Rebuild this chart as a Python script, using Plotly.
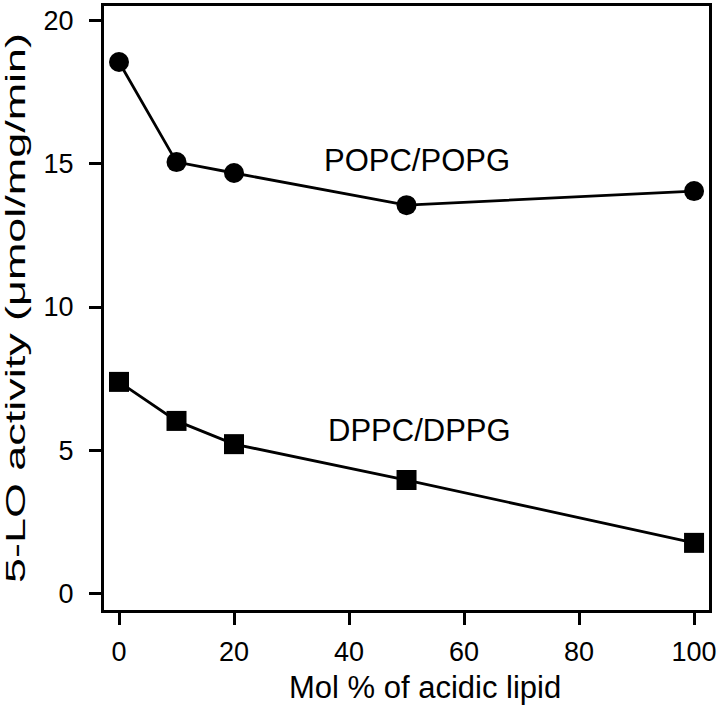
import plotly.graph_objects as go

mol_pct = [0, 10, 20, 50, 100]
popc_popg = [18.54, 15.05, 14.67, 13.55, 14.04]
dppc_dppg = [7.39, 6.03, 5.22, 3.97, 1.78]
x_ticks = [0, 20, 40, 60, 80, 100]
y_ticks = [0, 5, 10, 15, 20]

FONT = "Liberation Sans, Arial, sans-serif"

fig = go.Figure()
fig.add_trace(go.Scatter(
    x=mol_pct, y=popc_popg, mode="lines+markers", name="POPC/POPG",
    line=dict(color="black", width=2.8),
    marker=dict(symbol="circle", size=20, color="black"),
))
fig.add_trace(go.Scatter(
    x=mol_pct, y=dppc_dppg, mode="lines+markers", name="DPPC/DPPG",
    line=dict(color="black", width=2.8),
    marker=dict(symbol="square", size=20, color="black"),
))

axis_common = dict(
    showline=True, linecolor="black", linewidth=3, mirror=True,
    ticks="outside", ticklen=12, tickwidth=3, tickcolor="black",
    showgrid=False, zeroline=False,
    tickfont=dict(family=FONT, size=27, color="black"),
    automargin=False,
)

fig.update_xaxes(range=[-2.61, 102.6], tickvals=x_ticks, ticklabelstandoff=4, **axis_common)
fig.update_yaxes(range=[-0.56, 20.49], tickvals=y_ticks, ticklabelstandoff=10,
                 title=dict(text="5-LO activity (μmol/mg/min)", standoff=12,
                            font=dict(family=FONT, size=28, color="black")),
                 **axis_common)

fig.add_annotation(text="POPC/POPG", x=51.8, y=15.12, xref="x", yref="y",
                   showarrow=False, font=dict(family=FONT, size=31, color="black"))
fig.add_annotation(text="DPPC/DPPG", x=52.2, y=5.71, xref="x", yref="y",
                   showarrow=False, font=dict(family=FONT, size=31, color="black"))
fig.add_annotation(text="Mol % of acidic lipid", x=(424.5 - 104) / 605, y=-(688 - 610) / 604,
                   xref="paper", yref="paper", xanchor="center", yanchor="middle",
                   showarrow=False, font=dict(family=FONT, size=31, color="black"))

fig.update_layout(
    width=720, height=708,
    margin=dict(l=104, r=11, t=6, b=98),
    paper_bgcolor="white", plot_bgcolor="white",
    showlegend=False,
)

post = """
document.body.style.margin = '0';
document.body.style.padding = '0';
var t = document.querySelector('.ytitle');
if (t) { t.setAttribute('textLength', '550'); t.setAttribute('lengthAdjust', 'spacingAndGlyphs'); }
"""
fig.write_html("out.html", post_script=post, config={"displayModeBar": False})
